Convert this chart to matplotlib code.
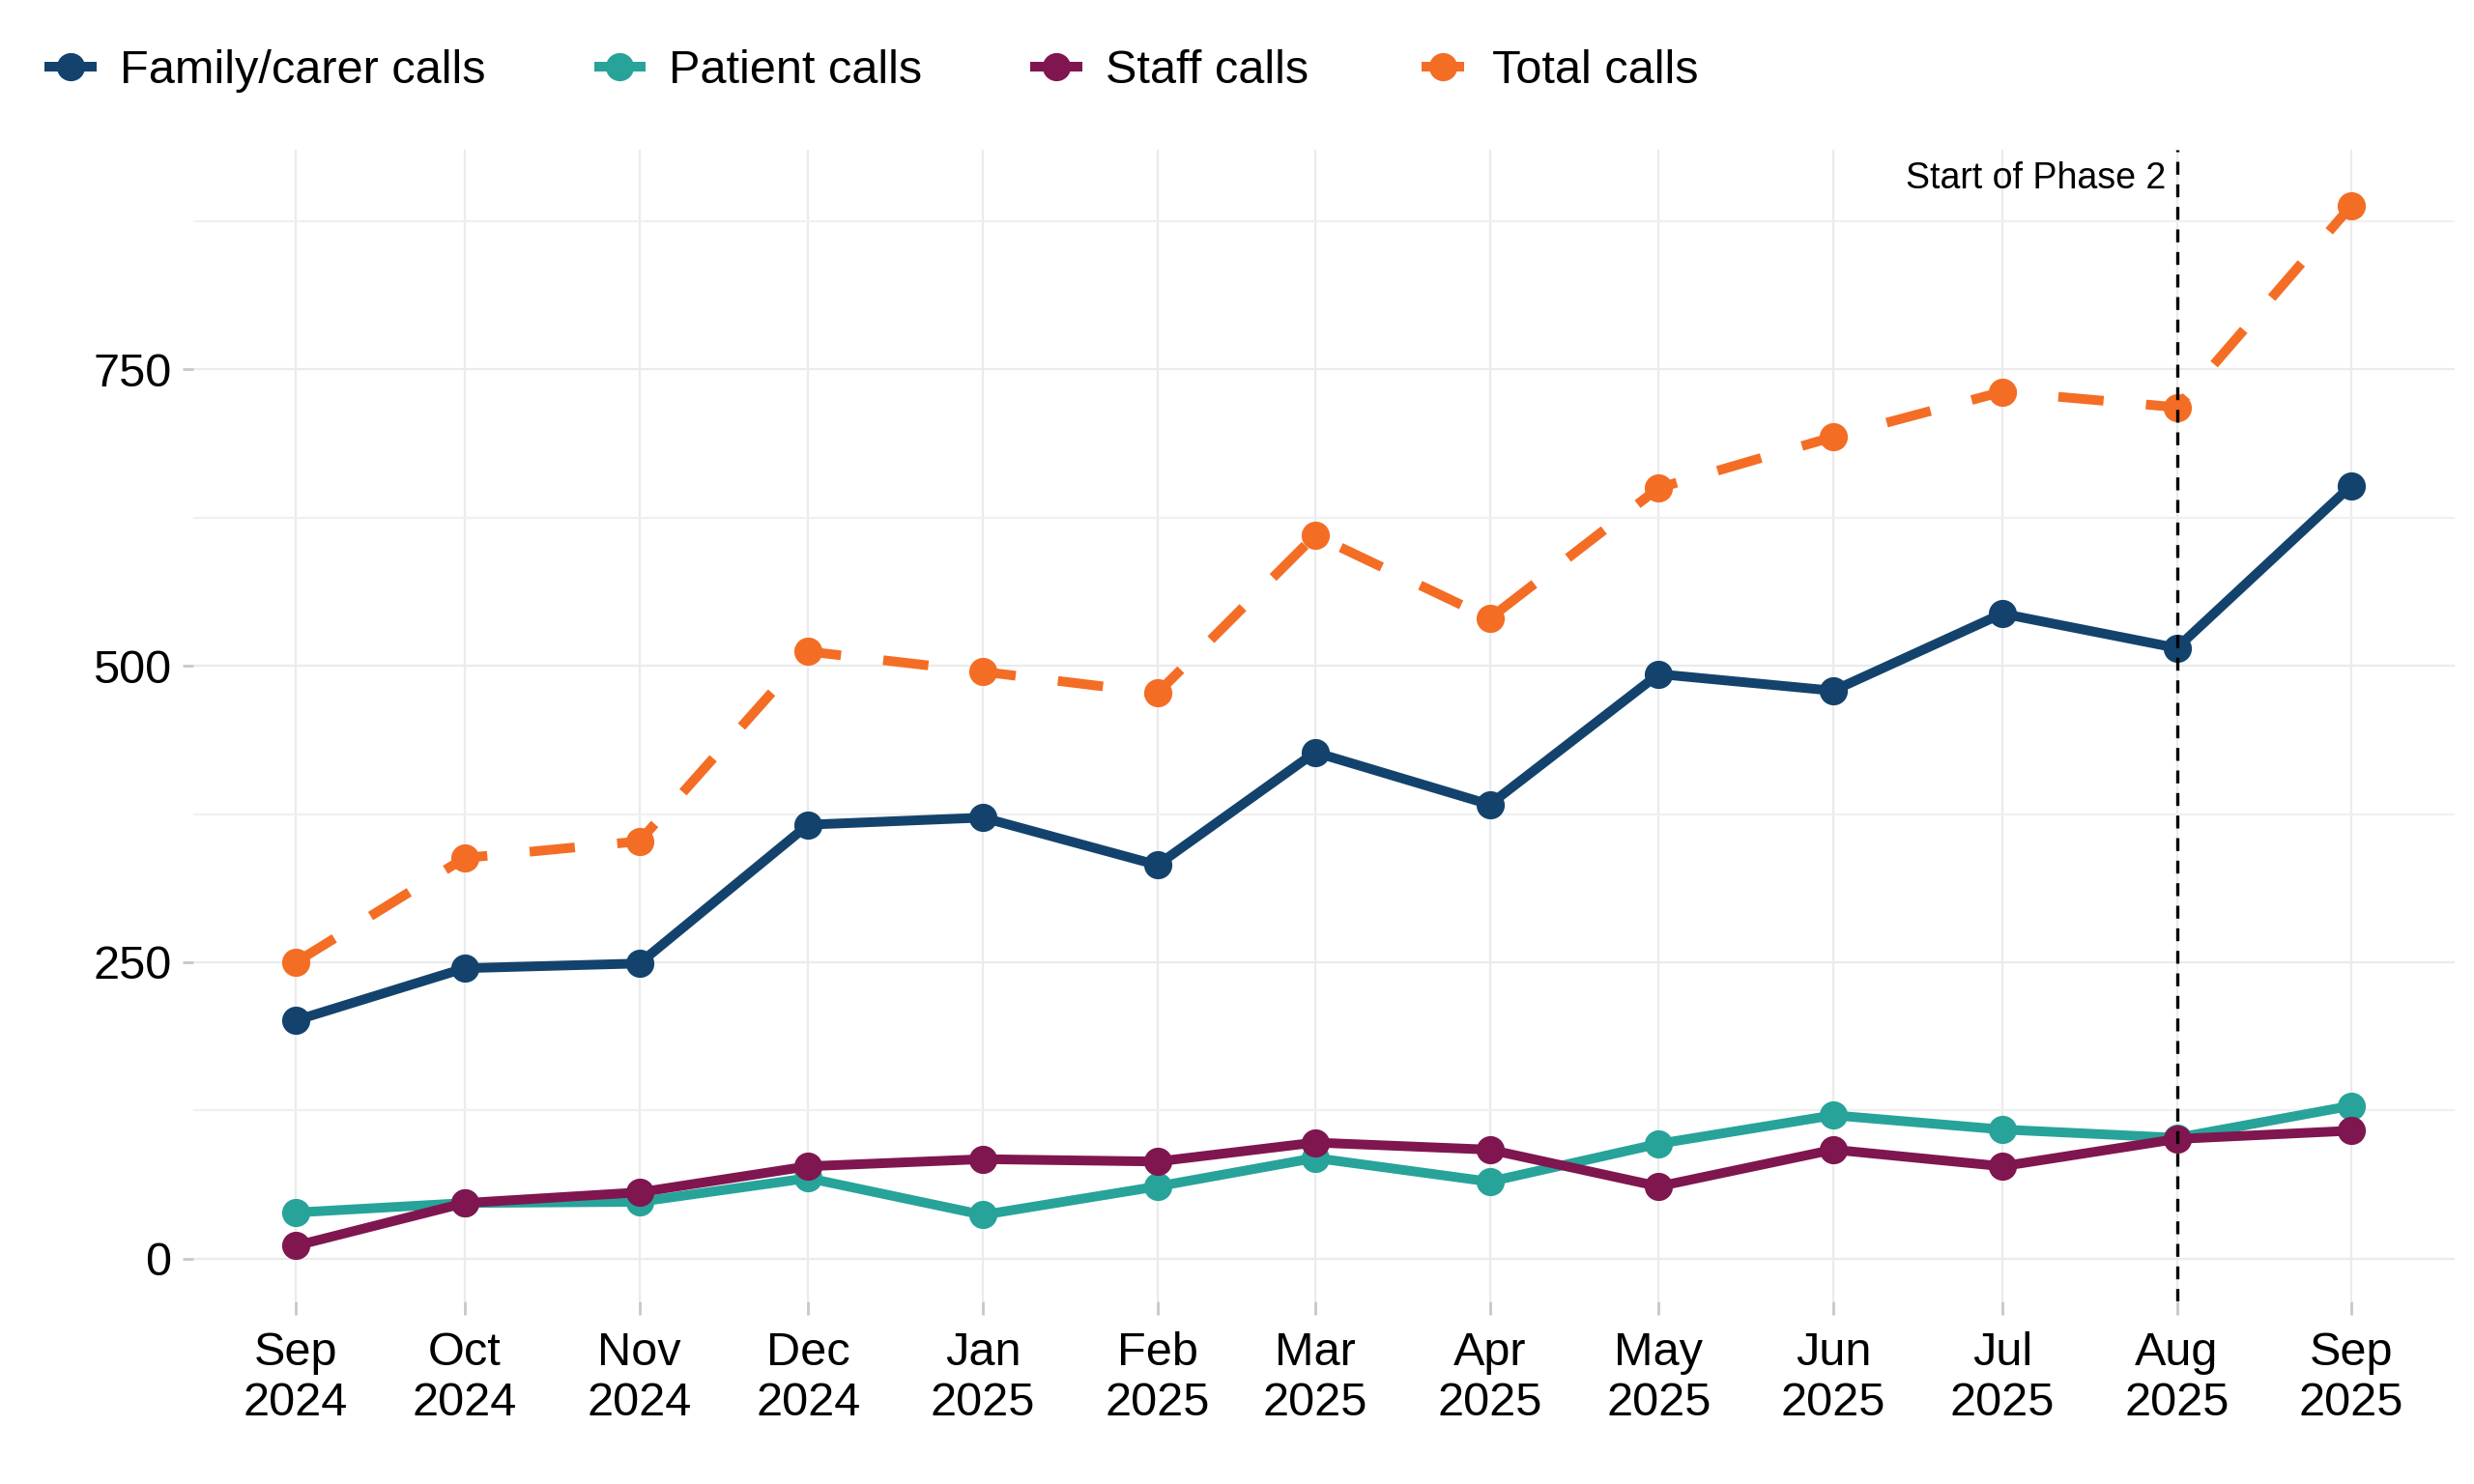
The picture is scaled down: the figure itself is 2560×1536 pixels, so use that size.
import matplotlib
matplotlib.use("Agg")
import matplotlib.pyplot as plt
import datetime as dt

plt.rcParams['font.family'] = ['Liberation Sans', 'DejaVu Sans']

# Дані
months = ["2024-09", "2024-10", "2024-11", "2024-12", "2025-01", "2025-02", "2025-03",
          "2025-04", "2025-05", "2025-06", "2025-07", "2025-08", "2025-09"]
family_calls = [201, 245, 249, 366, 372, 332, 427, 383, 493, 479, 544, 515, 652]
patient_calls = [39, 47, 48, 68, 37, 61, 85, 65, 97, 121, 109, 102, 129]
staff_calls = [11, 47, 56, 78, 84, 82, 98, 92, 61, 92, 78, 101, 108]
total_calls = [250, 338, 352, 512, 495, 477, 610, 540, 650, 693, 731, 718, 888]
phase2_start = "2025-08"

dates = [dt.datetime.strptime(m, "%Y-%m") for m in months]
tick_labels = [d.strftime("%b\n%Y") for d in dates]

fig = plt.figure(figsize=(12.8, 7.68), dpi=200)
ax = fig.add_axes([0.078, 0.123, 0.914, 0.776])

lw = 3.6
ms = 9.5
ax.plot(dates, family_calls, color='#13436D', lw=lw, marker='o', ms=ms,
        label='Family/carer calls', zorder=3)
ax.plot(dates, patient_calls, color='#27A39A', lw=lw, marker='o', ms=ms,
        label='Patient calls', zorder=3)
ax.plot(dates, staff_calls, color='#7F1650', lw=lw, marker='o', ms=ms,
        label='Staff calls', zorder=3)
ax.plot(dates, total_calls, color='#F46D25', lw=lw, marker='o', ms=ms,
        dashes=(4.7, 4.4), dash_capstyle='butt', label='Total calls', zorder=3)

# Лінія початку фази 2
p2 = dt.datetime.strptime(phase2_start, "%Y-%m")
ax.axvline(p2, color='black', lw=1.2, ls=(0, (4, 3)), zorder=4)
ax.text(p2 - dt.timedelta(days=2), 911, 'Start of Phase 2', ha='right', va='center',
        fontsize=13.5)

# Межі осей (як у ggplot, 5% розширення)
span = (dates[-1] - dates[0]) * 0.05
ax.set_xlim(dates[0] - span, dates[-1] + span)
ax.set_ylim(-36, 935)

ax.set_xticks(dates)
ax.set_xticklabels(tick_labels, fontsize=17.5, linespacing=1.2)
ax.set_yticks([0, 250, 500, 750])
ax.set_yticks([125, 375, 625, 875], minor=True)
ax.tick_params(axis='y', labelsize=17.5, length=4, color='#C8C8C8', width=1, pad=4)
ax.tick_params(axis='y', which='minor', length=0)
ax.tick_params(axis='x', length=5, color='#C8C8C8', width=1, pad=6)

ax.grid(True, which='major', color='#EBEBEB', lw=0.8, zorder=0)
ax.grid(True, which='minor', axis='y', color='#F0F0F0', lw=0.8, zorder=0)
ax.set_axisbelow(True)
for s in ax.spines.values():
    s.set_visible(False)

fig.legend(loc='upper left', bbox_to_anchor=(0.003, 0.995), ncol=4, frameon=False,
           fontsize=17.5, handlelength=0.9, handletextpad=0.6, columnspacing=2.4)

fig.savefig('out.png', dpi=200, facecolor='white')
